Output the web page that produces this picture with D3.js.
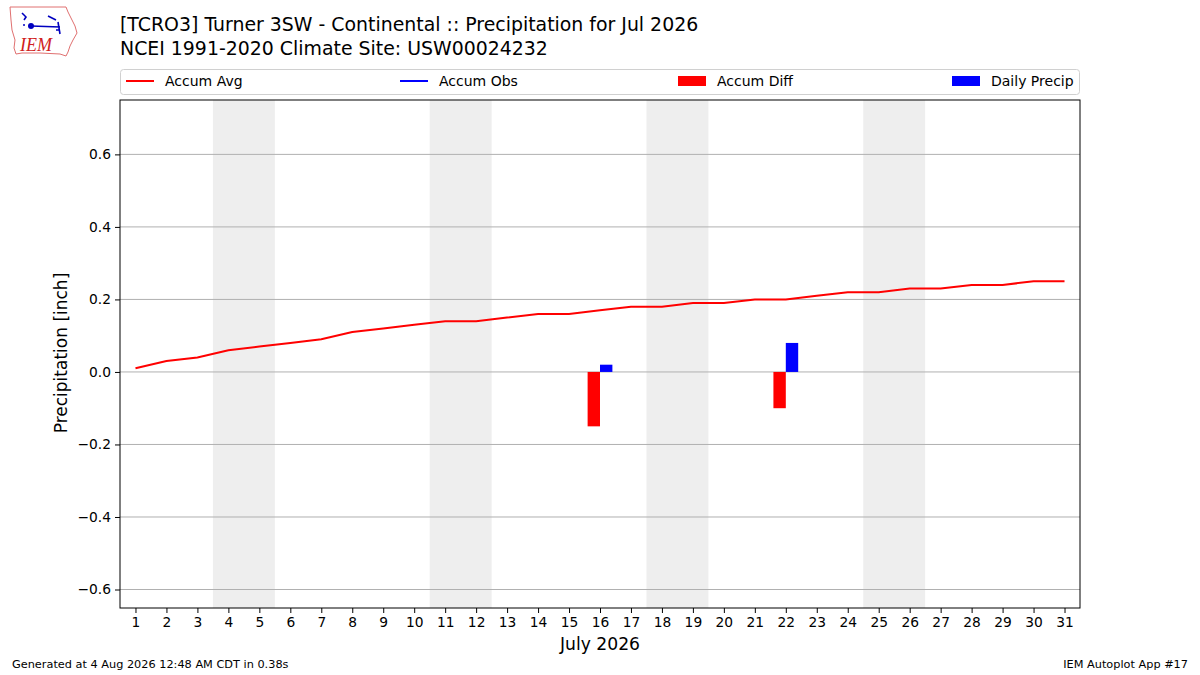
<!DOCTYPE html>
<html>
<head>
<meta charset="utf-8">
<script src="https://cdn.jsdelivr.net/npm/d3@7"></script>
<style>
body{margin:0;background:#fff;}
svg{display:block;font-family:"DejaVu Sans",sans-serif;}
</style>
</head>
<body>
<svg id="chart" width="1200" height="675"></svg>
<script>
const days = d3.range(1, 32);
const accumAvg = [0.01,0.03,0.04,0.06,0.07,0.08,0.09,0.11,0.12,0.13,0.14,0.14,0.15,0.16,0.16,0.17,0.18,0.18,0.19,0.19,0.20,0.20,0.21,0.22,0.22,0.23,0.23,0.24,0.24,0.25,0.25];
const diffDays = [16, 22];
const accumDiff = [-0.15, -0.10];
const precipDays = [16, 22];
const dailyPrecip = [0.02, 0.08];
const weekends = [[3.5,5.5],[10.5,12.5],[17.5,19.5],[24.5,26.5]];
const yTicks = [-0.6,-0.4,-0.2,0.0,0.2,0.4,0.6];

const svg = d3.select("#chart");
const L=120, R=1080, T=100, B=608;
const x = d3.scaleLinear().domain([0.5,31.5]).range([L,R]);
const y = d3.scaleLinear().domain([-0.651,0.750]).range([B,T]);

// weekend shading
svg.append("g").selectAll("rect").data(weekends).join("rect")
  .attr("x", d=>x(d[0])).attr("width", d=>x(d[1])-x(d[0]))
  .attr("y", T).attr("height", B-T).attr("fill", "#eeeeee");

// grid
svg.append("g").selectAll("line").data(yTicks).join("line")
  .attr("x1", L).attr("x2", R).attr("y1", d=>y(d)).attr("y2", d=>y(d))
  .attr("stroke", "#b0b0b0").attr("stroke-width", 1);

// bars
const bw = 0.4;
svg.append("g").selectAll("rect").data(diffDays.map((d,i)=>[d,accumDiff[i]])).join("rect")
  .attr("x", d=>x(d[0]-bw)).attr("width", d=>x(d[0])-x(d[0]-bw))
  .attr("y", d=>y(Math.max(0,d[1]))).attr("height", d=>Math.abs(y(d[1])-y(0)))
  .attr("fill", "#ff0000");
svg.append("g").selectAll("rect").data(precipDays.map((d,i)=>[d,dailyPrecip[i]])).join("rect")
  .attr("x", d=>x(d[0])).attr("width", d=>x(d[0]+bw)-x(d[0]))
  .attr("y", d=>y(Math.max(0,d[1]))).attr("height", d=>Math.abs(y(d[1])-y(0)))
  .attr("fill", "#0000ff");

// line
svg.append("path").datum(days.map((d,i)=>[d,accumAvg[i]]))
  .attr("d", d3.line().x(d=>x(d[0])).y(d=>y(d[1])))
  .attr("fill","none").attr("stroke","#ff0000").attr("stroke-width",2);

// frame
svg.append("rect").attr("x",L).attr("y",T).attr("width",R-L).attr("height",B-T)
  .attr("fill","none").attr("stroke","#000").attr("stroke-width",1);

// axes
const fmtY = d => (d<0?"\u2212":"") + Math.abs(d).toFixed(1);
const ya = svg.append("g").attr("transform",`translate(${L},0)`)
  .call(d3.axisLeft(y).tickValues(yTicks).tickFormat(fmtY).tickSize(5).tickPadding(4));
ya.select(".domain").remove();
ya.selectAll("text").attr("font-size",13.8).attr("font-family","DejaVu Sans").attr("fill","#000");
const xa = svg.append("g").attr("transform",`translate(0,${B})`)
  .call(d3.axisBottom(x).tickValues(days).tickFormat(d3.format("d")).tickSize(5).tickPadding(4));
xa.select(".domain").remove();
xa.selectAll("text").attr("font-size",13.8).attr("font-family","DejaVu Sans").attr("fill","#000");

// axis labels
svg.append("text").attr("x",600).attr("y",650).attr("text-anchor","middle")
  .attr("font-size",17.2).text("July 2026");
svg.append("text").attr("transform","translate(67,353) rotate(-90)").attr("text-anchor","middle")
  .attr("font-size",17).text("Precipitation [inch]");

// titles
svg.append("text").attr("x",120).attr("y",31).attr("font-size",18.9).text("[TCRO3] Turner 3SW - Continental :: Precipitation for Jul 2026");
svg.append("text").attr("x",120).attr("y",55).attr("font-size",18.9).text("NCEI 1991-2020 Climate Site: USW00024232");

// legend
svg.append("rect").attr("x",120.5).attr("y",69.5).attr("width",959).attr("height",25).attr("rx",3)
  .attr("fill","#fff").attr("stroke","#d0d0d0").attr("stroke-width",1);
const legend = [
  {label:"Accum Avg", type:"line", color:"#ff0000", x:126},
  {label:"Accum Obs", type:"line", color:"#0000ff", x:400},
  {label:"Accum Diff", type:"patch", color:"#ff0000", x:678},
  {label:"Daily Precip", type:"patch", color:"#0000ff", x:952}
];
const lg = svg.append("g").selectAll("g").data(legend).join("g")
  .attr("transform", d=>`translate(${d.x},81)`);
lg.filter(d=>d.type==="line").append("line").attr("x1",0).attr("x2",28).attr("y1",0).attr("y2",0)
  .attr("stroke",d=>d.color).attr("stroke-width",2);
lg.filter(d=>d.type==="patch").append("rect").attr("x",0).attr("y",-5).attr("width",28).attr("height",10)
  .attr("fill",d=>d.color);
lg.append("text").attr("x",39).attr("y",5).attr("font-size",14).text(d=>d.label);

// footer
svg.append("text").attr("x",12).attr("y",668).attr("font-size",11.3).text("Generated at 4 Aug 2026 12:48 AM CDT in 0.38s");
svg.append("text").attr("x",1188).attr("y",668).attr("text-anchor","end").attr("font-size",11.3).text("IEM Autoplot App #17");

// logo
const logo = svg.append("g");
logo.append("path").attr("d","M10,7 L66,7 L68,12 L72,20 L75,26 L77,33 L73,40 L70,46 L68,52 L66,56 L60,54 L40,53 L22,53 L16,54 L14,48 L15,40 L12,30 L11,20 Z")
  .attr("fill","#fff").attr("stroke","#e07070").attr("stroke-width",1);
logo.append("path").attr("d","M22,13 L26,17 L24,20 M31,26 L60,27 M48,16 L56,20 M58,22 L60,34 M56,30 L60,30")
  .attr("fill","none").attr("stroke","#0000c0").attr("stroke-width",1.6);
logo.append("circle").attr("cx",31).attr("cy",26).attr("r",3).attr("fill","#0000c0");
logo.append("circle").attr("cx",24).attr("cy",25).attr("r",1).attr("fill","#0000c0");
logo.append("text").attr("x",20).attr("y",51).attr("font-family","Liberation Serif").attr("font-style","italic")
  .attr("font-size",18).attr("fill","#d02020").text("IEM");
</script>
</body>
</html>
